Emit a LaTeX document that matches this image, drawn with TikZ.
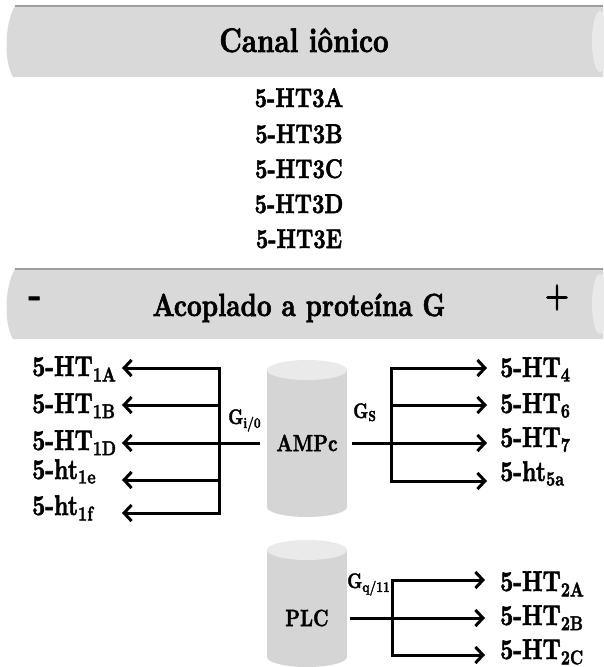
\documentclass[tikz,border=0pt]{standalone}
\usepackage{fontspec}
\newfontfamily\bodfont{lmroman10-bold.otf}[FakeBold=2]
\usepackage{graphicx}
\usetikzlibrary{arrows.meta}
\definecolor{barfill}{HTML}{D9D9D9}
\definecolor{barend}{HTML}{E9E9E9}
\definecolor{barline}{HTML}{9E9E9E}
\definecolor{cylfill}{HTML}{D5D5D5}
\definecolor{cyltop}{HTML}{EAEAEA}
\newcommand\cnd[1]{\scalebox{0.8}[1]{#1}}
\newcommand\mybar[2]{%
  \fill[barfill] (15,#1) .. controls (4,#1+18) and (4,#2-14) .. (13,#2) -- (603,#2) -- (603,#1) -- cycle;
  \fill[barend] (600,{(#1+#2)/2}) ellipse [x radius=8, y radius={(#2-#1)/2-5}];
  \draw[barline, line width=2pt] (15,#1) -- (603,#1);
}
\newcommand\mycyl[3]{%
  \fill[cylfill] (#1-40,#2+10) rectangle (#1+40,#3-10);
  \fill[cylfill] (#1,#3-10) ellipse [x radius=40, y radius=10];
  \fill[cyltop] (#1,#2+10) ellipse [x radius=40, y radius=10];
}
\tikzset{
  title/.style={font=\bodfont\fontsize{34}{40}\selectfont, inner sep=0pt},
  titleb/.style={font=\bodfont\fontsize{32}{38}\selectfont, inner sep=0pt},
  list/.style={font=\bodfont\fontsize{27}{32}\selectfont, inner sep=0pt},
  lab/.style={font=\bodfont\fontsize{28.5}{34}\selectfont, inner sep=0pt},
  cyllab/.style={font=\bodfont\fontsize{23.5}{28}\selectfont, inner sep=0pt, minimum width=80pt},
  glab/.style={font=\bodfont\fontsize{21}{25}\selectfont, inner sep=0pt},
  trunk/.style={line width=3pt, line cap=rect},
  arr/.style={line width=3pt, -{Straight Barb[length=7.5pt,width=16pt]}},
}
\begin{document}
\begin{tikzpicture}[x=1pt,y=-1pt]
\useasboundingbox (0,0) rectangle (603,667);
% bars
\mybar{6}{77}
\mybar{269}{339}
\node[title, anchor=base] (canal) at (304,52) {\cnd{Canal iônico}};
\node[titleb, anchor=base] (acop) at (299,316) {\cnd{Acoplado a proteína G}};
\node[title, anchor=base] (minus) at (35,306) {-};
\node[title, anchor=base] (plus) at (557,306) {\cnd{+}};
% ion channel list
\node[list, anchor=base] (ht3a) at (299,107) {\cnd{5-HT3A}};
\node[list, anchor=base] (ht3b) at (299,143) {\cnd{5-HT3B}};
\node[list, anchor=base] (ht3c) at (299,178) {\cnd{5-HT3C}};
\node[list, anchor=base] (ht3d) at (299,213) {\cnd{5-HT3D}};
\node[list, anchor=base] (ht3e) at (299,248) {\cnd{5-HT3E}};
% cylinders
\mycyl{307}{360}{517}
\mycyl{307}{540}{667}
\node[cyllab] (ampc) at (307,443) {\cnd{AMPc}};
\node[cyllab] (plc) at (307,618) {\cnd{PLC}};
% left labels
\node[lab, anchor=base west] (h1a) at (32,376) {\cnd{5-HT\textsubscript{1A}}};
\node[lab, anchor=base west] (h1b) at (32,413) {\cnd{5-HT\textsubscript{1B}}};
\node[lab, anchor=base west] (h1d) at (32,450) {\cnd{5-HT\textsubscript{1D}}};
\node[lab, anchor=base west] (h1e) at (32,479) {\cnd{5-ht\textsubscript{1e}}};
\node[lab, anchor=base west] (h1f) at (32,515) {\cnd{5-ht\textsubscript{1f}}};
% right labels
\node[lab, anchor=base west] (h4) at (500,377) {\cnd{5-HT\textsubscript{4}}};
\node[lab, anchor=base west] (h6) at (500,413) {\cnd{5-HT\textsubscript{6}}};
\node[lab, anchor=base west] (h7) at (500,447) {\cnd{5-HT\textsubscript{7}}};
\node[lab, anchor=base west] (h5a) at (500,481) {\cnd{5-ht\textsubscript{5a}}};
\node[lab, anchor=base west] (h2a) at (500,591) {\cnd{5-HT\textsubscript{2A}}};
\node[lab, anchor=base west] (h2b) at (500,625) {\cnd{5-HT\textsubscript{2B}}};
\node[lab, anchor=base west] (h2c) at (500,659) {\cnd{5-HT\textsubscript{2C}}};
% G protein labels
\node[glab, anchor=base west] (gi) at (228,424) {\cnd{G\textsubscript{i/0}}};
\node[glab, anchor=base west] (gs) at (353,418) {\cnd{G\textsubscript{S}}};
\node[glab, anchor=base west] (gq) at (347,588) {\cnd{G\textsubscript{q/11}}};
% coordinates
\coordinate (lt1) at (219,368);
\coordinate (lt2) at (219,405);
\coordinate (lt4) at (219,480);
\coordinate (lt5) at (219,513);
\coordinate (lx) at (122,0);
\coordinate (rt1) at (391,368);
\coordinate (rt2) at (391,405);
\coordinate (rt4) at (391,481);
\coordinate (rx) at (487,0);
\coordinate (pt1) at (392,580);
\coordinate (pt3) at (392,655);
\coordinate (px) at (485,0);
% left connectors
\draw[trunk] (lt1) -- (lt5);
\draw[arr] (lt1) -- (lt1 -| lx);
\draw[arr] (lt2) -- (lt2 -| lx);
\draw[arr] ([xshift=-7pt]ampc.west) -- (ampc.west -| lx);
\draw[arr] (lt4) -- (lt4 -| lx);
\draw[arr] (lt5) -- (lt5 -| lx);
% right connectors
\draw[trunk] (rt1) -- (rt4);
\draw[arr] (rt1) -- (rt1 -| rx);
\draw[arr] (rt2) -- (rt2 -| rx);
\draw[arr] ([xshift=5pt]ampc.east) -- (ampc.east -| rx);
\draw[arr] (rt4) -- (rt4 -| rx);
% PLC connectors
\draw[trunk] (pt1) -- (pt3);
\draw[arr] (pt1) -- (pt1 -| px);
\draw[arr] ([xshift=3pt]plc.east) -- (plc.east -| px);
\draw[arr] (pt3) -- (pt3 -| px);
\end{tikzpicture}
\end{document}
